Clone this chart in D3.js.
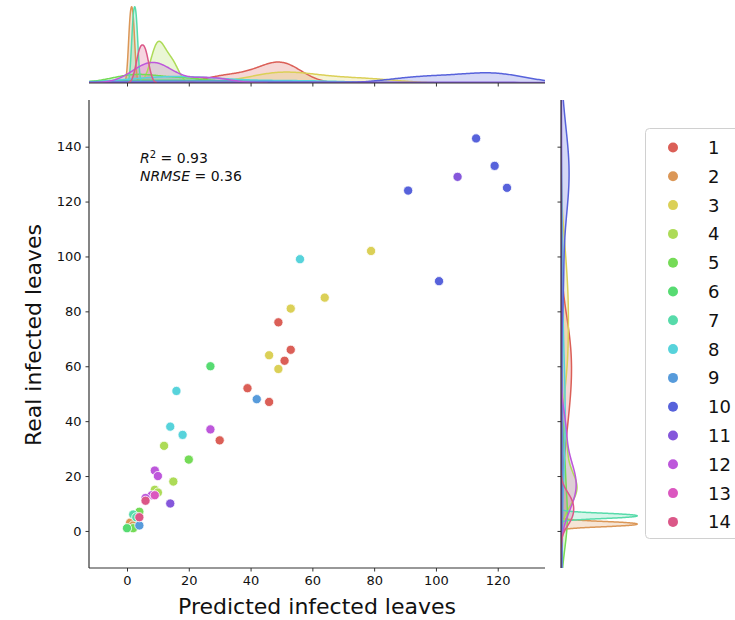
<!DOCTYPE html>
<html><head><meta charset="utf-8">
<script src="https://cdn.jsdelivr.net/npm/d3@7"></script>
<style>body{margin:0;background:#fff}svg{display:block;font-family:"DejaVu Sans",sans-serif}</style>
</head><body><svg id="c" width="735" height="620"></svg>
<script>
const groups = ["1","2","3","4","5","6","7","8","9","10","11","12","13","14"];
const colors = ["#db5f57","#db9757","#dbd057","#addb57","#75db57","#57db72","#57dbaa","#57d3db","#579bdb","#5762db","#8557db","#bd57db","#db57c0","#db5788"];
const pointGroup = ["1","1","1","1","1","1","2","2","3","3","3","3","3","4","4","4","4","5","5","5","6","6","7","7","8","8","8","8","9","9","10","10","10","10","10","11","11","12","12","12","12","12","13","14","14"];
const predicted = [49,53,51,39,46,30, 1,2, 46,49,53,64,79, 12,15,9,10, 20,4,2, 0,27, 2,3, 56,16,14,18, 42,4, 113,119,91,123,101, 107,14, 9,10,8,6,27, 9, 6,4];
const real      = [76,66,62,52,47,33, 3,2, 64,59,81,85,102, 31,18,15,14, 26,7,1, 1,60, 6,5, 99,51,38,35, 48,2, 143,133,124,125,91, 129,10, 22,20,13,12,37, 13, 11,5];
const xTicks = [0,20,40,60,80,100,120];
const yTicks = [0,20,40,60,80,100,120,140];
const annotation = {r2: "0.93", nrmse: "0.36"};

const svg = d3.select("#c");
const M = {l:89, r:545, t:100, b:568};
const x = d3.scaleLinear().domain([-12.3,135.3]).range([M.l,M.r]);
const y = d3.scaleLinear().domain([-13.5,157]).range([M.b,M.t]);
const col = d3.scaleOrdinal().domain(groups).range(colors);

const pts = predicted.map((p,i)=>({x:p,y:real[i],g:pointGroup[i]}));
const N = pts.length;

// KDE (scott, cut=3, common_norm)
function kde(vals){
  const n = vals.length;
  const sd = d3.deviation(vals);
  if(n<2 || !sd) return null;
  const bw = sd*Math.pow(n,-0.2);
  const lo = d3.min(vals)-3*bw, hi = d3.max(vals)+3*bw;
  const out=[];
  for(let k=0;k<200;k++){
    const v = lo+(hi-lo)*k/199;
    let s=0; for(const xi of vals){const z=(v-xi)/bw; s+=Math.exp(-0.5*z*z);}
    out.push([v, s/(n*bw*Math.sqrt(2*Math.PI))*(n/N)]);
  }
  return out;
}
const kx = groups.map(g=>({g, d:kde(pts.filter(p=>p.g===g).map(p=>p.x))})).filter(o=>o.d);
const ky = groups.map(g=>({g, d:kde(pts.filter(p=>p.g===g).map(p=>p.y))})).filter(o=>o.d);

const defs = svg.append("defs");
defs.append("clipPath").attr("id","cx").append("rect").attr("x",M.l).attr("y",0).attr("width",M.r-M.l).attr("height",83);
defs.append("clipPath").attr("id","cy").append("rect").attr("x",561).attr("y",M.t).attr("width",100).attr("height",M.b-M.t);

// top marginal
const topBase=83, topTop=3;
const maxX = d3.max(kx,o=>d3.max(o.d,d=>d[1]));
const hx = d3.scaleLinear().domain([0,maxX*1.05]).range([topBase,topTop]);
const gTop = svg.append("g").attr("clip-path","url(#cx)");
kx.forEach(o=>{
  gTop.append("path").datum(o.d).attr("fill",col(o.g)).attr("fill-opacity",0.25)
    .attr("d",d3.area().x(d=>x(d[0])).y0(topBase).y1(d=>hx(d[1])));
});
kx.forEach(o=>{
  gTop.append("path").datum(o.d).attr("fill","none").attr("stroke",col(o.g)).attr("stroke-width",1.5)
    .attr("d",d3.line().x(d=>x(d[0])).y(d=>hx(d[1])));
});
const axTop = svg.append("g").attr("transform",`translate(0,${topBase})`)
  .call(d3.axisBottom(x).tickValues(xTicks).tickSize(3.5).tickFormat(""));
axTop.select(".domain").attr("stroke","#333").attr("stroke-width",1.2).attr("d",`M${M.l},0H${M.r}`);
axTop.selectAll(".tick line").attr("stroke","#333");

// right marginal
const rBase=561, rMax=641;
const maxY = d3.max(ky,o=>d3.max(o.d,d=>d[1]));
const hy = d3.scaleLinear().domain([0,maxY*1.05]).range([rBase,rMax]);
const gR = svg.append("g").attr("clip-path","url(#cy)");
ky.forEach(o=>{
  gR.append("path").datum(o.d).attr("fill",col(o.g)).attr("fill-opacity",0.25)
    .attr("d",d3.area().y(d=>y(d[0])).x0(rBase).x1(d=>hy(d[1])));
});
ky.forEach(o=>{
  gR.append("path").datum(o.d).attr("fill","none").attr("stroke",col(o.g)).attr("stroke-width",1.5)
    .attr("d",d3.line().y(d=>y(d[0])).x(d=>hy(d[1])));
});
const axR = svg.append("g").attr("transform",`translate(${rBase},0)`)
  .call(d3.axisLeft(y).tickValues(yTicks).tickSize(3.5).tickFormat(""));
axR.select(".domain").attr("stroke","#333").attr("stroke-width",1.2).attr("d",`M0,${M.t}V${M.b}`);
axR.selectAll(".tick line").attr("stroke","#333");

// main axes
const axX = svg.append("g").attr("transform",`translate(0,${M.b})`)
  .call(d3.axisBottom(x).tickValues(xTicks).tickSize(3.5).tickPadding(4));
axX.select(".domain").attr("stroke","#333").attr("stroke-width",1.2).attr("d",`M${M.l},0H${M.r}`);
axX.selectAll(".tick line").attr("stroke","#333");
axX.selectAll("text").attr("font-size",13).attr("fill","#111").attr("font-family","DejaVu Sans");
const axY = svg.append("g").attr("transform",`translate(${M.l},0)`)
  .call(d3.axisLeft(y).tickValues(yTicks).tickSize(3.5).tickPadding(4));
axY.select(".domain").attr("stroke","#333").attr("stroke-width",1.2).attr("d",`M0,${M.t}V${M.b}`);
axY.selectAll(".tick line").attr("stroke","#333");
axY.selectAll("text").attr("font-size",13).attr("fill","#111").attr("font-family","DejaVu Sans");

// points
svg.append("g").selectAll("circle").data(pts).join("circle")
  .attr("cx",d=>x(d.x)).attr("cy",d=>y(d.y)).attr("r",4.6)
  .attr("fill",d=>col(d.g)).attr("stroke","#fff").attr("stroke-width",0.8);

// annotation
const ann = svg.append("text").attr("font-size",14).attr("fill","#111");
const l1 = ann.append("tspan").attr("x",140).attr("y",163);
l1.append("tspan").attr("font-style","italic").text("R");
l1.append("tspan").attr("dy",-5).attr("font-size",10).text("2");
l1.append("tspan").attr("dy",5).text(" = " + annotation.r2);
const l2 = ann.append("tspan").attr("x",140).attr("y",181);
l2.append("tspan").attr("font-style","italic").text("NRMSE");
l2.append("tspan").text(" = " + annotation.nrmse);

// axis titles
svg.append("text").attr("x",317).attr("y",614).attr("text-anchor","middle").attr("font-size",22).attr("fill","#111").text("Predicted infected leaves");
svg.append("text").attr("transform","translate(41,335) rotate(-90)").attr("text-anchor","middle").attr("font-size",22).attr("fill","#111").text("Real infected leaves");

// legend
const lg = svg.append("g");
lg.append("rect").attr("x",645.5).attr("y",128.5).attr("width",110).attr("height",410).attr("rx",4)
  .attr("fill","#fff").attr("stroke","#d0d0d0");
groups.forEach((g,i)=>{
  const cy = 147.5 + i*28.8;
  lg.append("circle").attr("cx",673).attr("cy",cy).attr("r",5).attr("fill",col(g));
  lg.append("text").attr("x",708).attr("y",cy+6.5).attr("font-size",18).attr("fill","#111").text(g);
});
</script></body></html>
